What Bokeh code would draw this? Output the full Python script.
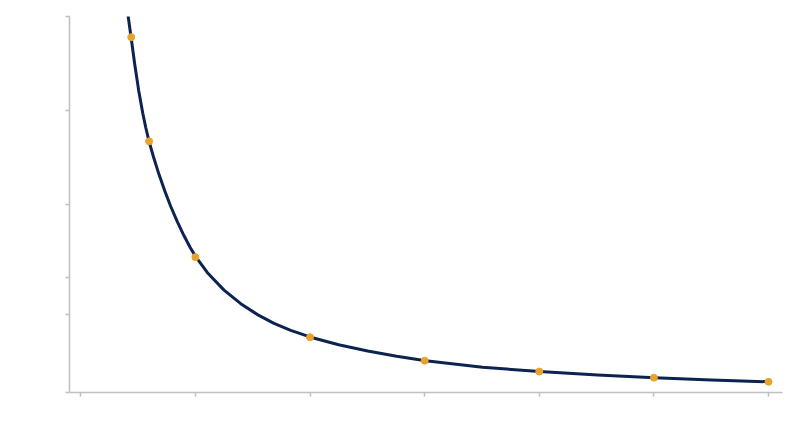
from bokeh.plotting import figure
from bokeh.models import FixedTicker, Range1d
from bokeh.embed import file_html
from bokeh.resources import INLINE

# smooth curve samples
curve_x = [0.4134, 0.4387, 0.4709, 0.5058, 0.5407, 0.5668, 0.5956, 0.6392,
           0.6828, 0.7338, 0.7849, 0.8429, 0.9008, 0.9532, 1.0055, 1.1049,
           1.2497, 1.3953, 1.5410, 1.6857, 1.8314, 2.0058, 2.2499, 2.5028,
           2.7557, 3.0086, 3.5057, 4.0028, 4.5086, 5.0057, 5.5028, 6.0]
curve_y = [100.0, 94.50, 87.23, 80.19, 74.26, 70.48, 66.76, 62.15,
           57.95, 53.51, 49.47, 45.40, 41.68, 38.64, 35.98, 31.86,
           27.23, 23.62, 20.72, 18.40, 16.54, 14.71, 12.69, 11.04,
           9.65, 8.46, 6.70, 5.56, 4.65, 3.94, 3.32, 2.85]

# marked points
point_x = [0.44, 0.596, 1, 2, 3, 4, 5, 6]
point_y = [94.5, 66.8, 36.0, 14.7, 8.45, 5.57, 3.95, 2.85]

x_ticks = [0, 1, 2, 3, 4, 5, 6]
y_ticks = [0, 20.7, 30.7, 50, 75, 100]

p = figure(width=784, height=431, output_backend="svg", toolbar_location=None,
           x_range=Range1d(-0.0985, 6.122), y_range=Range1d(0, 100),
           min_border_left=69, min_border_right=2, min_border_top=16,
           min_border_bottom=39)
p.outline_line_color = None
p.xgrid.visible = False
p.ygrid.visible = False
p.background_fill_color = "white"

p.line(curve_x, curve_y, line_color="#0c2250", line_width=3,
       line_join="round", line_cap="round")
p.scatter(point_x, point_y, size=7, fill_color="#e9a32a", line_color="#e9a32a")

for ax in (p.xaxis, p.yaxis):
    ax.axis_line_color = "#c0c0c0"
    ax.axis_line_width = 1.5
    ax.major_tick_line_color = "#c0c0c0"
    ax.major_tick_line_width = 1.5
    ax.minor_tick_line_color = None
    ax.major_tick_in = 0
    ax.major_tick_out = 4
    ax.major_label_text_font_size = "0pt"
    ax.major_label_text_color = None

p.xaxis.ticker = FixedTicker(ticks=x_ticks)
p.yaxis.ticker = FixedTicker(ticks=y_ticks)

open("out.html", "w").write(file_html(p, INLINE))
